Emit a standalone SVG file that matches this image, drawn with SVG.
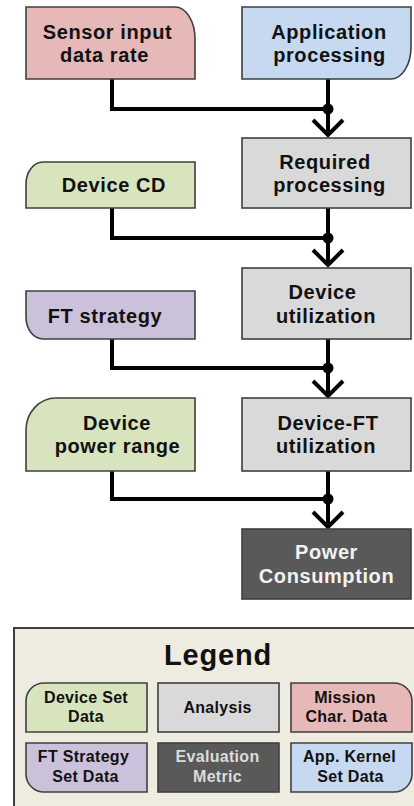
<svg xmlns="http://www.w3.org/2000/svg" width="414" height="806" viewBox="0 0 414 806">
<defs>
<style>
.box{stroke:#3f3f3f;stroke-width:1.6}
.pink{fill:#e6b9b8}.blue{fill:#c6d9f1}.gray{fill:#d9d9d9}.green{fill:#d7e4bd}.purple{fill:#ccc1da}.dark{fill:#595959}
.t{font-family:"Liberation Sans",Arial,sans-serif;font-weight:bold;font-size:20px;letter-spacing:0.6px;fill:#111;text-anchor:middle}
.tw{fill:#f2f2f2}
.lt{font-family:"Liberation Sans",Arial,sans-serif;font-weight:bold;font-size:16px;letter-spacing:0.3px;fill:#111;text-anchor:middle}
.ltw{fill:#dcdcdc}
.c{fill:none;stroke:#000;stroke-width:4;stroke-linejoin:miter}
</style>
</defs>
<rect width="414" height="806" fill="#fff"/>
<g id="connectors">
<path class="c" d="M112,79 V109 H328"/><path class="c" d="M328,79 V135"/><path class="c" d="M313,120 L328,135 L343,120"/><circle cx="328" cy="109" r="5.5"/>
<path class="c" d="M112,208 V238 H328"/><path class="c" d="M328,208 V265"/><path class="c" d="M313,250 L328,265 L343,250"/><circle cx="328" cy="238" r="5.5"/>
<path class="c" d="M112,339 V368 H328"/><path class="c" d="M328,339 V396"/><path class="c" d="M313,381 L328,396 L343,381"/><circle cx="328" cy="368" r="5.5"/>
<path class="c" d="M112,471 V499 H328"/><path class="c" d="M328,471 V527"/><path class="c" d="M313,512 L328,527 L343,512"/><circle cx="328" cy="499" r="5.5"/>
</g>
<g id="sensor">
<path class="box pink" d="M26,7 H175 A20,32 0 0 1 195,39 V79 H26 Z"/>
<text class="t" x="107.5" y="39">Sensor input</text><text class="t" x="104.5" y="62">data rate</text>
</g>
<g id="application">
<path class="box blue" d="M242,7 H411 V47 A20,32 0 0 1 391,79 H242 Z"/>
<text class="t" x="329" y="39">Application</text><text class="t" x="329.5" y="62">processing</text>
</g>
<g id="required">
<rect class="box gray" x="242" y="138" width="169" height="70"/>
<text class="t" x="325" y="169">Required</text><text class="t" x="329.5" y="192">processing</text>
</g>
<g id="devicecd">
<path class="box green" d="M43,162 H195 V208 H26 V184 A17,22 0 0 1 43,162 Z"/>
<text class="t" x="114" y="192">Device CD</text>
</g>
<g id="utilization">
<rect class="box gray" x="242" y="268" width="169" height="71"/>
<text class="t" x="322.5" y="299">Device</text><text class="t" x="326" y="323">utilization</text>
</g>
<g id="ftstrategy">
<path class="box purple" d="M26,291 H195 V339 H43 A17,22 0 0 1 26,317 Z"/>
<text class="t" x="105" y="323">FT strategy</text>
</g>
<g id="powerrange">
<path class="box green" d="M56,398 H195 V471 H26 V430 A30,32 0 0 1 56,398 Z"/>
<text class="t" x="117" y="430">Device</text><text class="t" x="117.5" y="453">power range</text>
</g>
<g id="deviceft">
<rect class="box gray" x="242" y="398" width="169" height="73"/>
<text class="t" x="328" y="430">Device-FT</text><text class="t" x="326" y="453">utilization</text>
</g>
<g id="power">
<rect class="box dark" x="242" y="529" width="169" height="70" stroke="#333" stroke-width="2"/>
<text class="t tw" x="326.5" y="559">Power</text><text class="t tw" x="326.5" y="583">Consumption</text>
</g>
<g id="legend">
<rect x="14" y="628" width="420" height="200" fill="#eeece1" stroke="#404040" stroke-width="2"/>
<text x="218" y="665" font-family="'Liberation Sans',Arial,sans-serif" font-weight="bold" font-size="29" letter-spacing="0.8" text-anchor="middle" fill="#111">Legend</text>
<g id="leg-device"><path class="box green" d="M44,683 H147 V732 H26 V701 A18,18 0 0 1 44,683 Z"/><text class="lt" x="86" y="703">Device Set</text><text class="lt" x="86" y="722">Data</text></g>
<g id="leg-analysis"><rect class="box gray" x="158" y="683" width="121" height="49"/><text class="lt" x="217.5" y="713">Analysis</text></g>
<g id="leg-mission"><path class="box pink" d="M291,683 H394 A18,18 0 0 1 412,701 V732 H291 Z"/><text class="lt" x="345" y="703">Mission</text><text class="lt" x="346.5" y="722">Char. Data</text></g>
<g id="leg-ft"><path class="box purple" d="M26,743 H147 V792 H44 A18,18 0 0 1 26,774 Z"/><text class="lt" x="83.5" y="762">FT Strategy</text><text class="lt" x="85.5" y="782">Set Data</text></g>
<g id="leg-eval"><rect class="box dark" x="158" y="743" width="121" height="49"/><text class="lt ltw" x="217.5" y="762">Evaluation</text><text class="lt ltw" x="217.5" y="782">Metric</text></g>
<g id="leg-app"><path class="box blue" d="M291,743 H412 V774 A18,18 0 0 1 394,792 H291 Z"/><text class="lt" x="349.5" y="762">App. Kernel</text><text class="lt" x="350.5" y="782">Set Data</text></g>
</g>
</svg>
